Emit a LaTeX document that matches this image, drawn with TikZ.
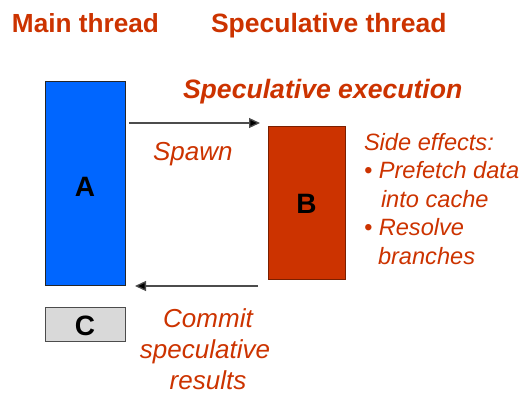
\documentclass[tikz,border=0pt]{standalone}
\usepackage{fontspec}
\setmainfont{Liberation Sans}
\usetikzlibrary{arrows.meta}
\definecolor{txt}{HTML}{CC3300}
\definecolor{boxA}{HTML}{0066FF}
\definecolor{boxB}{HTML}{CC3300}
\definecolor{boxC}{HTML}{D9D9D9}
\begin{document}
\begin{tikzpicture}[x=1pt,y=-1pt,
  lbl/.style={text=txt, inner sep=0pt, outer sep=0pt},
  blk/.style={draw=black!85, line width=0.9pt, inner sep=0pt, outer sep=0pt, anchor=north west},
  letter/.style={inner sep=0pt, font=\fontsize{28}{30}\selectfont\bfseries},
  arr/.style={draw=black!70, line width=1.3pt, -{Triangle[length=11pt,width=10pt,fill=black]}}
]
\useasboundingbox (0,0) rectangle (523,394);
% headings
\node[lbl, anchor=base west, font=\fontsize{26.2}{28.5}\selectfont\bfseries] (hm) at (12,32) {Main thread};
\node[lbl, anchor=base west, font=\fontsize{26.5}{28.5}\selectfont\bfseries] (hs) at (211,32) {Speculative thread};
\node[lbl, anchor=base west, font=\fontsize{26.6}{28.5}\selectfont\bfseries\itshape] (hx) at (183,98) {Speculative execution};
% boxes
\node[blk, fill=boxA, minimum width=80pt, minimum height=204pt] (A) at (45,81) {};
\node[blk, fill=boxB, draw=boxB!60!black, minimum width=77pt, minimum height=153pt] (B) at (268,126) {};
\node[blk, fill=boxC, draw=black!70, minimum width=80pt, minimum height=34pt] (C) at (45,307) {};
\node[letter, anchor=center] (lA) at ([yshift=-4pt]A.center) {A};
\node[letter, anchor=center] (lB) at ([yshift=-1.5pt]B.center) {B};
\node[letter, anchor=center] (lC) at ([yshift=-2pt]C.center) {C};
% arrows
\coordinate (s1) at (129,123);
\coordinate (s2) at (260,123);
\coordinate (c1) at (258,286);
\coordinate (c2) at (135,286);
\draw[arr] (s1) -- (s2);
\draw[arr] (c1) -- (c2);
% labels
\node[lbl, anchor=base west, font=\fontsize{26}{28.5}\selectfont\itshape] (sp) at (153,160) {Spawn};
\node[lbl, anchor=base, font=\fontsize{26}{28.5}\selectfont\itshape] (cm1) at (208,327) {Commit};
\node[lbl, anchor=base, font=\fontsize{26}{28.5}\selectfont\itshape] (cm2) at (205,358) {speculative};
\node[lbl, anchor=base, font=\fontsize{26}{28.5}\selectfont\itshape] (cm3) at (208,389) {results};
% side effects
\node[lbl, anchor=base west, font=\fontsize{23.6}{28.5}\selectfont\itshape] (se1) at (364,150) {Side effects:};
\node[lbl, anchor=base west, font=\fontsize{23.6}{28.5}\selectfont\itshape] (se2) at (364,178.5) {• Prefetch data};
\node[lbl, anchor=base west, font=\fontsize{23.6}{28.5}\selectfont\itshape] (se3) at (381,207) {into cache};
\node[lbl, anchor=base west, font=\fontsize{23.6}{28.5}\selectfont\itshape] (se4) at (364,235.5) {• Resolve};
\node[lbl, anchor=base west, font=\fontsize{23.6}{28.5}\selectfont\itshape] (se5) at (378,264) {branches};
\end{tikzpicture}
\end{document}
